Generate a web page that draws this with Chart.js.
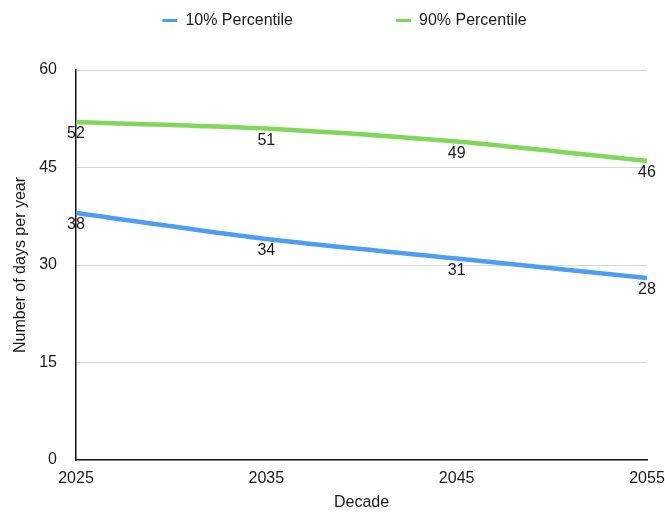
<!DOCTYPE html>
<html>
<head>
<meta charset="utf-8">
<script src="https://cdn.jsdelivr.net/npm/chart.js@4/dist/chart.umd.min.js"></script>
<style>
  html, body { margin: 0; padding: 0; background: #ffffff; }
  #wrap { width: 665px; height: 512px; }
</style>
</head>
<body>
<div id="wrap"><canvas id="chart" width="665" height="512"></canvas></div>
<script>
// Projected number of days per year, by decade
const decades = ['2025', '2035', '2045', '2055'];
const percentile10 = [38, 34, 31, 28];
const percentile90 = [52, 51, 49, 46];
const yTickValues = [0, 15, 30, 45, 60];

const FONT = '"Liberation Sans", Arial, Helvetica, sans-serif';
const TEXT = '#1a1a1a';
const BLUE = '#4c9ef4';
const GREEN = '#80d75a';

// Writes each value just under its point
const pointValueLabels = {
  id: 'pointValueLabels',
  afterDatasetsDraw(chart) {
    const ctx = chart.ctx;
    ctx.save();
    ctx.font = '16px ' + FONT;
    ctx.fillStyle = TEXT;
    ctx.textAlign = 'center';
    ctx.textBaseline = 'middle';
    chart.data.datasets.forEach((ds, i) => {
      const meta = chart.getDatasetMeta(i);
      meta.data.forEach((pt, j) => {
        ctx.fillText(String(ds.data[j]), pt.x, pt.y + 12);
      });
    });
    ctx.restore();
  }
};

// Wide gap between legend entries while keeping the legend band short:
// the band is 70px tall and the row is lifted so it sits near the top.
const legendSpacing = {
  id: 'legendSpacing',
  beforeInit(chart) {
    const legend = chart.legend;
    const fit = legend.fit;
    legend.fit = function () {
      fit.call(this);
      this.height = 70;
    };
    const draw = legend.draw;
    legend.draw = function () {
      const box = { left: this.left, right: this.right, top: this.top };
      this.top = box.top - 90.5;
      this.left = box.left + 21;
      this.right = box.right + 21;
      draw.call(this);
      this.top = box.top;
      this.left = box.left;
      this.right = box.right;
    };
  }
};

new Chart(document.getElementById('chart'), {
  type: 'line',
  data: {
    labels: decades,
    datasets: [
      {
        label: '10% Percentile',
        data: percentile10,
        borderColor: BLUE,
        backgroundColor: BLUE,
        borderWidth: 4.5,
        pointRadius: 0,
        pointHoverRadius: 0,
        tension: 0.25,
        borderCapStyle: 'butt'
      },
      {
        label: '90% Percentile',
        data: percentile90,
        borderColor: GREEN,
        backgroundColor: GREEN,
        borderWidth: 4.5,
        pointRadius: 0,
        pointHoverRadius: 0,
        tension: 0.25,
        borderCapStyle: 'butt'
      }
    ]
  },
  options: {
    responsive: false,
    animation: false,
    devicePixelRatio: 1,
    layout: { padding: { left: 0, right: 18, top: 0, bottom: 0 } },
    plugins: {
      tooltip: { enabled: false },
      legend: {
        position: 'top',
        align: 'center',
        labels: {
          boxWidth: 15,
          boxHeight: 3,
          padding: 103,
          color: TEXT,
          font: { family: FONT, size: 16 },
          generateLabels(chart) {
            return Chart.defaults.plugins.legend.labels.generateLabels(chart).map(item => {
              item.lineWidth = 0;
              item.fillStyle = item.strokeStyle;
              return item;
            });
          }
        }
      }
    },
    scales: {
      x: {
        offset: false,
        grid: { drawOnChartArea: false, drawTicks: false },
        border: { display: true, color: '#111111', width: 1.5 },
        ticks: {
          color: TEXT,
          font: { family: FONT, size: 16 },
          padding: 9,
          maxRotation: 0,
          autoSkip: false
        },
        title: {
          display: true,
          text: 'Decade',
          color: TEXT,
          font: { family: FONT, size: 16 },
          padding: { top: 4, bottom: 0 }
        },
        afterFit(scale) {
          scale.height = 52;
          scale.paddingLeft = 0;
          scale.paddingRight = 0;
        }
      },
      y: {
        min: 0,
        max: 60,
        afterBuildTicks(scale) {
          scale.ticks = yTickValues.map(v => ({ value: v }));
        },
        grid: {
          drawTicks: false,
          lineWidth: 1,
          color: ctx => (ctx.tick && ctx.tick.value === 0) ? 'rgba(0,0,0,0)' : '#d6d6d6'
        },
        border: { display: true, color: '#111111', width: 1.5 },
        ticks: {
          color: TEXT,
          font: { family: FONT, size: 16 },
          padding: 19
        },
        title: {
          display: true,
          text: 'Number of days per year',
          color: TEXT,
          font: { family: FONT, size: 16 },
          padding: { top: 11, bottom: 0 }
        },
        afterFit(scale) { scale.width = 76; }
      }
    }
  },
  plugins: [pointValueLabels, legendSpacing]
});
</script>
</body>
</html>
